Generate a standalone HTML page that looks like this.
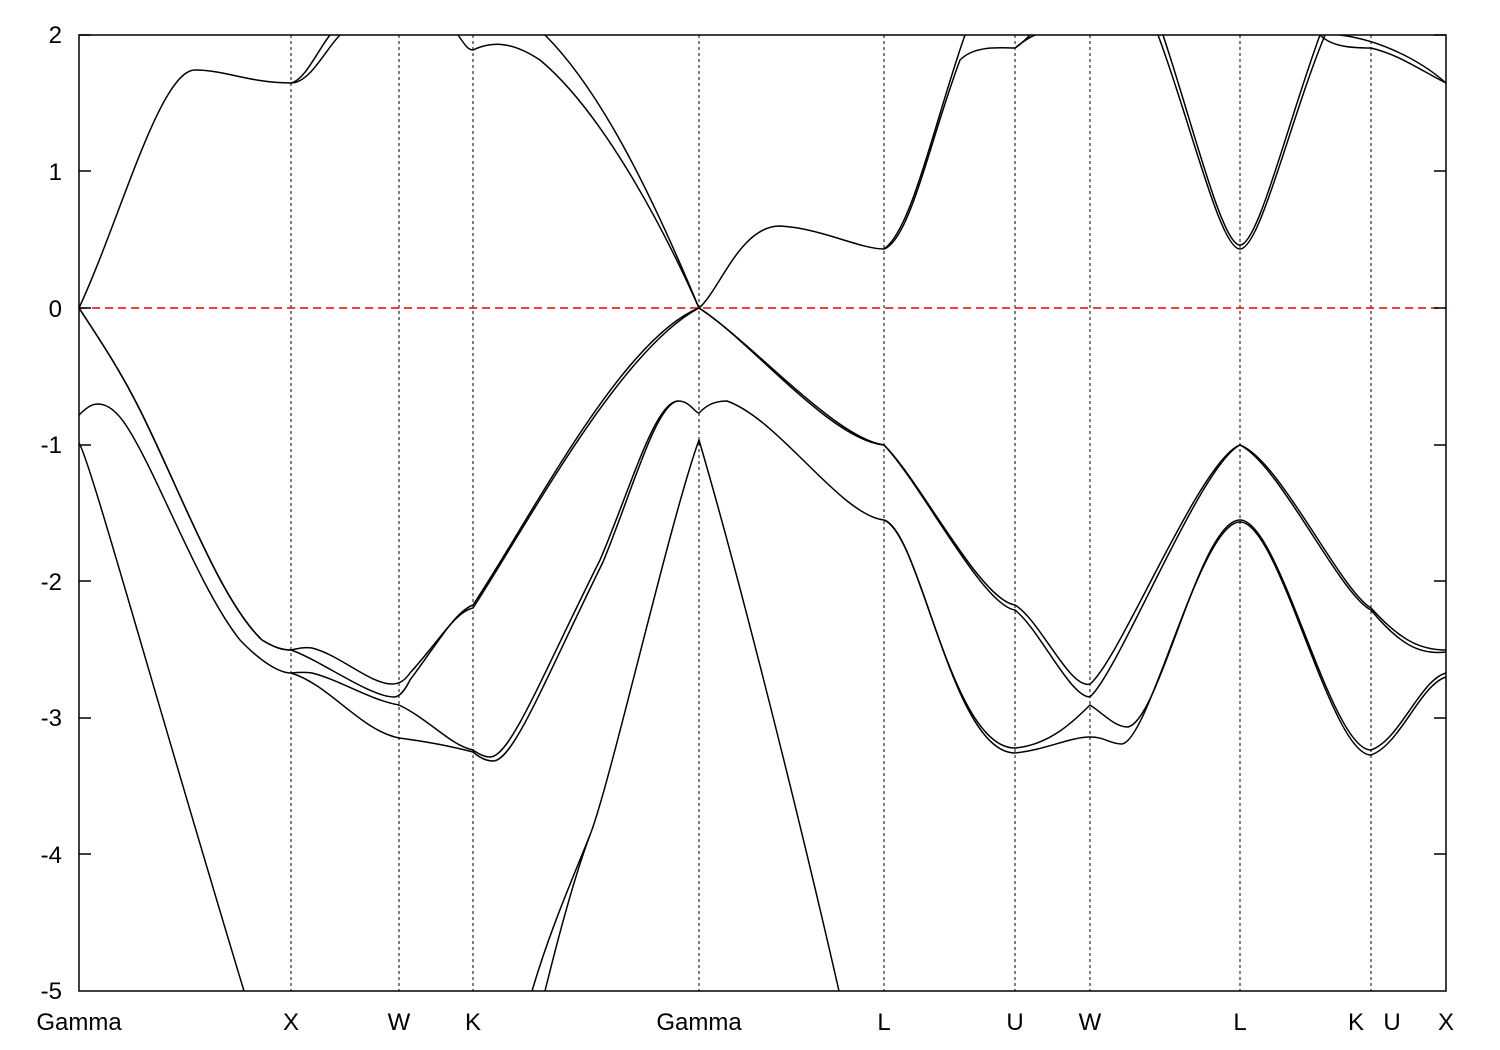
<!DOCTYPE html>
<html><head><style>body{margin:0;background:#fff}svg{display:block}</style></head><body>
<svg width="1500" height="1050" xmlns="http://www.w3.org/2000/svg" font-family="Liberation Sans, sans-serif" font-size="24">
<rect width="1500" height="1050" fill="#fff"/>
<g stroke="#000" stroke-width="1" stroke-dasharray="3,3">
<line x1="291" y1="35" x2="291" y2="991"/><line x1="399" y1="35" x2="399" y2="991"/><line x1="473" y1="35" x2="473" y2="991"/><line x1="699" y1="35" x2="699" y2="991"/><line x1="884" y1="35" x2="884" y2="991"/><line x1="1015" y1="35" x2="1015" y2="991"/><line x1="1090" y1="35" x2="1090" y2="991"/><line x1="1240" y1="35" x2="1240" y2="991"/><line x1="1371" y1="35" x2="1371" y2="991"/>
</g>
<line x1="79" y1="308" x2="1446" y2="308" stroke="#e00" stroke-width="1.5" stroke-dasharray="8,5"/>
<g stroke="#000" stroke-width="1.5">
<line x1="79" y1="35" x2="91" y2="35"/><line x1="1446" y1="35" x2="1434" y2="35"/>
<line x1="79" y1="171" x2="91" y2="171"/><line x1="1446" y1="171" x2="1434" y2="171"/>
<line x1="79" y1="308" x2="91" y2="308"/><line x1="1446" y1="308" x2="1434" y2="308"/>
<line x1="79" y1="445" x2="91" y2="445"/><line x1="1446" y1="445" x2="1434" y2="445"/>
<line x1="79" y1="581" x2="91" y2="581"/><line x1="1446" y1="581" x2="1434" y2="581"/>
<line x1="79" y1="718" x2="91" y2="718"/><line x1="1446" y1="718" x2="1434" y2="718"/>
<line x1="79" y1="854" x2="91" y2="854"/><line x1="1446" y1="854" x2="1434" y2="854"/>
</g>
<g fill="none" stroke="#000" stroke-width="1.5">
<path d="M79,308 C120,220 160,70 195,70 C225,70 250,83 291,83 C310,83 325,50 340,35"/>
<path d="M291,83 C305,80 318,50 330,35"/>
<path d="M458,35 C465,45 468,50 473,50 C490,42 510,40 540,60 C600,110 660,220 699,308"/>
<path d="M545,35 C600,90 650,190 699,308"/>
<path d="M699,308 C720,290 740,226 780,226 C820,228 860,249 884,249 C910,240 930,140 960,60 C975,45 1000,48 1015,48 C1020,45 1025,40 1030,35"/>
<path d="M884,249 C912,230 935,120 965,35"/>
<path d="M1015,48 C1025,40 1030,37 1035,35"/>
<path d="M1158,35 C1190,120 1220,249 1240,249 C1260,249 1290,120 1325,35"/>
<path d="M1163,35 C1193,125 1222,245 1240,245 C1258,245 1287,125 1320,35"/>
<path d="M1320,35 C1330,45 1345,48 1371,48 C1400,55 1420,70 1446,83"/>
<path d="M1340,35 C1380,40 1420,60 1446,83"/>
<path d="M79,308 C100,340 120,370 140,410 C180,490 220,600 262,640 C275,648 283,650 291,650 C300,648 305,647 312,648 C340,655 370,684 392,684 C400,684 405,680 410,673 C440,640 455,612 473,608 C530,520 620,350 699,308"/>
<path d="M79,308 C100,340 120,370 140,410 C180,490 220,600 262,640 C275,648 283,650 291,650 C320,660 370,697 394,697 C400,697 405,690 410,680 C440,640 455,612 473,605 C530,520 620,340 699,308"/>
<path d="M79,415 C88,406 93,404 98,404 C110,404 120,415 129,430 C160,480 200,590 240,640 C262,663 280,673 291,673 C300,672 305,672 312,673 C340,680 370,700 399,705 C430,720 450,745 473,750 C480,755 485,757 490,757 C510,757 540,680 600,560 C630,490 655,401 678,401 C690,401 695,413 699,413 C705,407 712,401 727,401 C780,420 840,515 884,520"/>
<path d="M291,673 C330,685 360,730 399,738 C430,742 450,746 473,752 C480,758 486,761 493,761 C513,761 543,684 603,562 C632,492 656,403 678,401"/>
<path d="M532,991 C550,930 572,880 590,835 C610,785 670,520 699,440 C740,580 800,820 839,991"/>
<path d="M545,991 C560,930 575,875 590,835"/>
<path d="M79,443 C90,460 150,680 244,991"/>
<path d="M699,308 C750,340 830,440 884,445 C920,480 980,600 1015,605 C1040,620 1070,690 1090,684 C1120,660 1200,460 1240,445 C1280,460 1340,590 1371,608 C1400,640 1420,650 1446,650"/>
<path d="M699,308 C755,345 835,438 884,445 C922,485 982,605 1015,610 C1040,630 1070,697 1090,697 C1120,670 1200,465 1240,445 C1280,465 1340,595 1371,610 C1400,645 1420,655 1446,652"/>
<path d="M884,520 C920,530 950,748 1015,748 C1050,745 1075,720 1090,705 C1105,715 1115,727 1128,727 C1160,720 1200,520 1240,520 C1280,520 1330,750 1371,750 C1400,740 1420,680 1446,673"/>
<path d="M884,520 C922,535 952,753 1015,753 C1045,750 1070,737 1090,737 C1105,737 1110,744 1122,744 C1150,740 1200,522 1240,522 C1280,522 1330,755 1371,755 C1400,745 1420,685 1446,677"/>
</g>
<rect x="79" y="35" width="1367" height="956" fill="none" stroke="#000" stroke-width="1.5"/>
<g text-anchor="end">
<text x="62" y="43">2</text><text x="62" y="180">1</text><text x="62" y="317">0</text><text x="62" y="453">-1</text><text x="62" y="590">-2</text><text x="62" y="726">-3</text><text x="62" y="863">-4</text><text x="62" y="999">-5</text>
</g>
<g text-anchor="middle">
<text x="79" y="1030">Gamma</text><text x="291" y="1030">X</text><text x="399" y="1030">W</text><text x="473" y="1030">K</text><text x="699" y="1030">Gamma</text><text x="884" y="1030">L</text><text x="1015" y="1030">U</text><text x="1090" y="1030">W</text><text x="1240" y="1030">L</text><text x="1356" y="1030">K</text><text x="1392" y="1030">U</text><text x="1446" y="1030">X</text>
</g>
</svg>
</body></html>
